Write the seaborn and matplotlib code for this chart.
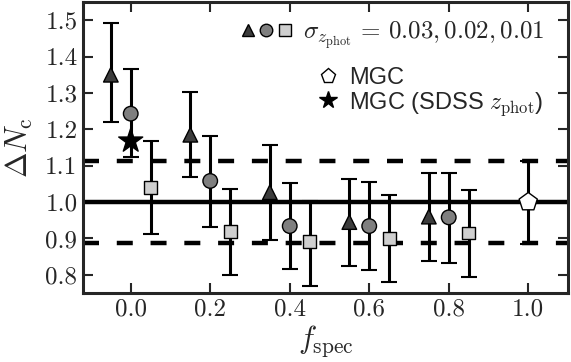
import numpy as np
import pandas as pd
import matplotlib
matplotlib.use("Agg")
import matplotlib.pyplot as plt
import seaborn as sns
from matplotlib.lines import Line2D
from matplotlib.legend_handler import HandlerTuple

# sigma_zphot = 0.03 (triangles), 0.02 (circles), 0.01 (squares), offset in f_spec
f_tri = [-0.05, 0.15, 0.35, 0.55, 0.75]
dn_tri = [1.350, 1.185, 1.027, 0.945, 0.960]
lo_tri = [1.220, 1.068, 0.896, 0.825, 0.839]
hi_tri = [1.493, 1.302, 1.158, 1.063, 1.080]

f_circ = [0.0, 0.2, 0.4, 0.6, 0.8]
dn_circ = [1.243, 1.058, 0.934, 0.934, 0.958]
lo_circ = [1.123, 0.932, 0.817, 0.812, 0.833]
hi_circ = [1.366, 1.182, 1.052, 1.055, 1.079]

f_sq = [0.05, 0.25, 0.45, 0.65, 0.85]
dn_sq = [1.041, 0.918, 0.891, 0.900, 0.915]
lo_sq = [0.912, 0.800, 0.770, 0.779, 0.795]
hi_sq = [1.167, 1.035, 1.003, 1.019, 1.033]

# MGC and MGC with SDSS photo-z
f_mgc = [1.0]
dn_mgc = [1.0]
lo_mgc = [0.885]
hi_mgc = [1.112]
f_star = [0.0]
dn_star = [1.168]

ref_line = 1.0
band = [0.887, 1.113]

sns.set_style("ticks")
plt.rcParams["font.family"] = ["cmr10", "DejaVu Serif"]
plt.rcParams["mathtext.fontset"] = "cm"
plt.rcParams["axes.formatter.use_mathtext"] = True

samples = ["0.03", "0.02", "0.01", "MGC", "star"]
df = pd.concat([
    pd.DataFrame({"f": f_tri, "dn": dn_tri, "lo": lo_tri, "hi": hi_tri, "s": "0.03"}),
    pd.DataFrame({"f": f_circ, "dn": dn_circ, "lo": lo_circ, "hi": hi_circ, "s": "0.02"}),
    pd.DataFrame({"f": f_sq, "dn": dn_sq, "lo": lo_sq, "hi": hi_sq, "s": "0.01"}),
    pd.DataFrame({"f": f_mgc, "dn": dn_mgc, "lo": lo_mgc, "hi": hi_mgc, "s": "MGC"}),
    pd.DataFrame({"f": f_star, "dn": dn_star, "lo": dn_star, "hi": dn_star, "s": "star"}),
], ignore_index=True)

colors = {"0.03": "#3c3c3c", "0.02": "#7f7f7f", "0.01": "#cfcfcf", "MGC": "white", "star": "black"}
markers = {"0.03": "^", "0.02": "o", "0.01": "s", "MGC": "p", "star": "*"}
sizes = {"0.03": 110, "0.02": 110, "0.01": 85, "MGC": 190, "star": 330}

fig = plt.figure(figsize=(5.71, 3.62), dpi=100)
ax = fig.add_axes([0.1454, 0.1906, 0.8493, 0.8039])

ax.axhline(ref_line, color="black", lw=3.2, zorder=1)
for b in band:
    ax.axhline(b, color="black", lw=3.2, ls=(0, (3.6, 4.0)), zorder=1)

err = df[df.s != "star"]
ax.errorbar(err.f, err.dn, yerr=[err.dn - err.lo, err.hi - err.dn], fmt="none",
            ecolor="black", elinewidth=2.2, capsize=6, capthick=1.5, zorder=2)

sns.scatterplot(data=df, x="f", y="dn", hue="s", style="s", size="s",
                palette=colors, markers=markers, sizes=sizes, hue_order=samples,
                style_order=samples, size_order=samples,
                edgecolor="black", linewidth=1.0, legend=False, ax=ax, zorder=5)

ax.set_xlim(-0.12, 1.1)
ax.set_ylim(0.75, 1.55)
ax.set_xticks([0.0, 0.2, 0.4, 0.6, 0.8, 1.0])
ax.set_yticks([0.8, 0.9, 1.0, 1.1, 1.2, 1.3, 1.4, 1.5])
ax.xaxis.set_major_formatter(matplotlib.ticker.FormatStrFormatter("%.1f"))
ax.yaxis.set_major_formatter(matplotlib.ticker.FormatStrFormatter("%.1f"))
ax.tick_params(direction="in", length=7, width=1.5, labelsize=18, top=True, right=True, pad=4)
for sp in ax.spines.values():
    sp.set_linewidth(2.2)

ax.set_xlabel(r"$f_{\rm spec}$", fontsize=22, labelpad=2)
ax.set_ylabel(r"$\Delta N_{\rm c}$", fontsize=22, labelpad=7)

# legend: three sigma markers share one row, right-aligned rows
mk = dict(ls="none", markeredgecolor="black", markeredgewidth=1.0)
h_tri = Line2D([], [], marker="^", color=colors["0.03"], markersize=9, **mk)
h_circ = Line2D([], [], marker="o", color=colors["0.02"], markersize=9, **mk)
h_sq = Line2D([], [], marker="s", color=colors["0.01"], markersize=8, **mk)
leg1 = ax.legend([(h_tri, h_circ, h_sq)],
                 [r"$\sigma_{z_{\rm phot}}\,=\,0.03, 0.02, 0.01$"],
                 handler_map={tuple: HandlerTuple(ndivide=None, pad=0.15)},
                 handlelength=2.1, handletextpad=0.4, frameon=False,
                 loc="center right", bbox_to_anchor=(0.95, 0.887),
                 borderaxespad=0, borderpad=0, fontsize=18)
ax.add_artist(leg1)
h_mgc = Line2D([], [], marker="p", color="white", markersize=11, **mk)
h_star = Line2D([], [], marker="*", color="black", markersize=13, **mk)
ax.legend([h_mgc, h_star], ["MGC", r"MGC (SDSS $z_{\rm phot}$)"],
          prop={"family": "Liberation Sans", "size": 17},
          handlelength=1.0, handletextpad=0.4, labelspacing=0.05, frameon=False,
          loc="center right", bbox_to_anchor=(0.95, 0.69),
          borderaxespad=0, borderpad=0)

fig.savefig("out.png", dpi=100)
